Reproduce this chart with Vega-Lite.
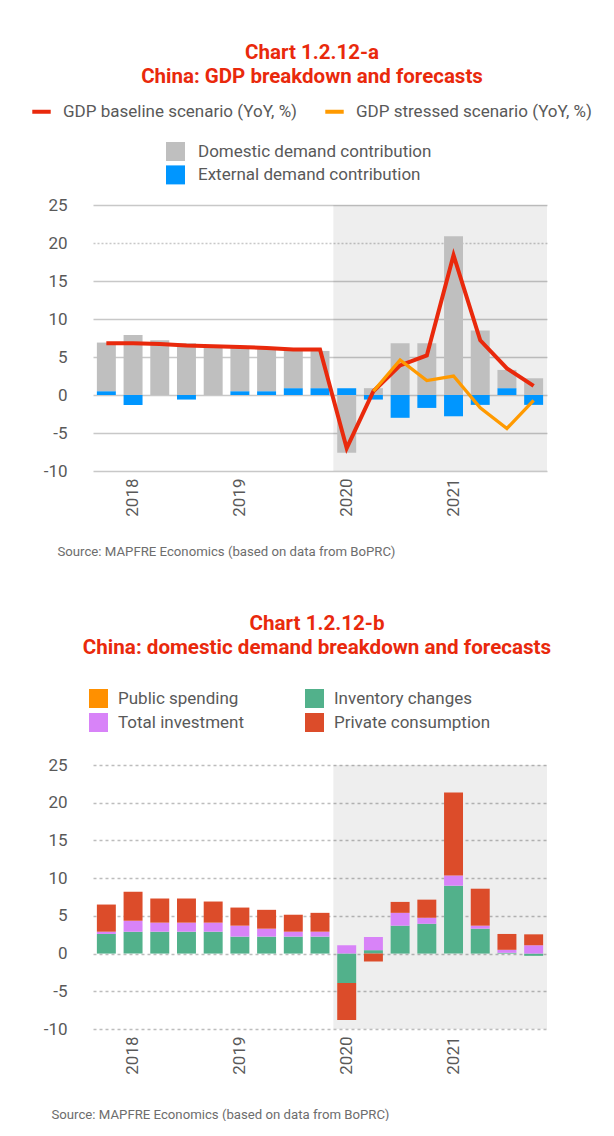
{
  "$schema": "https://vega.github.io/schema/vega-lite/v6.json",
  "background": "white",
  "padding": {"left": 30, "top": 42, "right": 0, "bottom": 0},
  "config": {"font": "Roboto", "view": {"stroke": null}},
  "bounds": "flush",
  "spacing": 294,
  "resolve": {"scale": {"x": "independent", "y": "independent", "fill": "independent", "stroke": "independent"}, "legend": {"fill": "independent", "stroke": "independent"}},
  "datasets": {
    "shade": [{"first": 9, "last": 17, "lo": -10, "hi": 25}],
    "a_bars": [
      {"q": "2017 Q4", "c": "External demand contribution", "v": 0.5, "k": 1},
      {"q": "2017 Q4", "c": "Domestic demand contribution", "v": 6.4, "k": 2},
      {"q": "2018 Q1", "c": "External demand contribution", "v": -1.3, "k": 1},
      {"q": "2018 Q1", "c": "Domestic demand contribution", "v": 7.9, "k": 2},
      {"q": "2018 Q2", "c": "Domestic demand contribution", "v": 7.2, "k": 2},
      {"q": "2018 Q3", "c": "External demand contribution", "v": -0.6, "k": 1},
      {"q": "2018 Q3", "c": "Domestic demand contribution", "v": 6.8, "k": 2},
      {"q": "2018 Q4", "c": "Domestic demand contribution", "v": 6.3, "k": 2},
      {"q": "2019 Q1", "c": "External demand contribution", "v": 0.5, "k": 1},
      {"q": "2019 Q1", "c": "Domestic demand contribution", "v": 5.8, "k": 2},
      {"q": "2019 Q2", "c": "External demand contribution", "v": 0.5, "k": 1},
      {"q": "2019 Q2", "c": "Domestic demand contribution", "v": 5.6, "k": 2},
      {"q": "2019 Q3", "c": "External demand contribution", "v": 0.9, "k": 1},
      {"q": "2019 Q3", "c": "Domestic demand contribution", "v": 4.9, "k": 2},
      {"q": "2019 Q4", "c": "External demand contribution", "v": 0.9, "k": 1},
      {"q": "2019 Q4", "c": "Domestic demand contribution", "v": 4.9, "k": 2},
      {"q": "2020 Q1", "c": "External demand contribution", "v": 0.9, "k": 1},
      {"q": "2020 Q1", "c": "Domestic demand contribution", "v": -7.6, "k": 2},
      {"q": "2020 Q2", "c": "External demand contribution", "v": -0.6, "k": 1},
      {"q": "2020 Q2", "c": "Domestic demand contribution", "v": 0.9, "k": 2},
      {"q": "2020 Q3", "c": "External demand contribution", "v": -3.0, "k": 1},
      {"q": "2020 Q3", "c": "Domestic demand contribution", "v": 6.8, "k": 2},
      {"q": "2020 Q4", "c": "External demand contribution", "v": -1.7, "k": 1},
      {"q": "2020 Q4", "c": "Domestic demand contribution", "v": 6.8, "k": 2},
      {"q": "2021 Q1", "c": "External demand contribution", "v": -2.8, "k": 1},
      {"q": "2021 Q1", "c": "Domestic demand contribution", "v": 20.9, "k": 2},
      {"q": "2021 Q2", "c": "External demand contribution", "v": -1.3, "k": 1},
      {"q": "2021 Q2", "c": "Domestic demand contribution", "v": 8.5, "k": 2},
      {"q": "2021 Q3", "c": "External demand contribution", "v": 0.9, "k": 1},
      {"q": "2021 Q3", "c": "Domestic demand contribution", "v": 2.4, "k": 2},
      {"q": "2021 Q4", "c": "External demand contribution", "v": -1.3, "k": 1},
      {"q": "2021 Q4", "c": "Domestic demand contribution", "v": 2.2, "k": 2}
    ],
    "a_lines": [
      {"q": "2017 Q4", "s": "GDP baseline scenario (YoY, %)", "v": 6.8},
      {"q": "2018 Q1", "s": "GDP baseline scenario (YoY, %)", "v": 6.8},
      {"q": "2018 Q2", "s": "GDP baseline scenario (YoY, %)", "v": 6.7},
      {"q": "2018 Q3", "s": "GDP baseline scenario (YoY, %)", "v": 6.5},
      {"q": "2018 Q4", "s": "GDP baseline scenario (YoY, %)", "v": 6.4},
      {"q": "2019 Q1", "s": "GDP baseline scenario (YoY, %)", "v": 6.3},
      {"q": "2019 Q2", "s": "GDP baseline scenario (YoY, %)", "v": 6.2},
      {"q": "2019 Q3", "s": "GDP baseline scenario (YoY, %)", "v": 6.0},
      {"q": "2019 Q4", "s": "GDP baseline scenario (YoY, %)", "v": 6.0},
      {"q": "2020 Q1", "s": "GDP baseline scenario (YoY, %)", "v": -7.0},
      {"q": "2020 Q2", "s": "GDP baseline scenario (YoY, %)", "v": 0.5},
      {"q": "2020 Q3", "s": "GDP baseline scenario (YoY, %)", "v": 3.9},
      {"q": "2020 Q4", "s": "GDP baseline scenario (YoY, %)", "v": 5.2},
      {"q": "2021 Q1", "s": "GDP baseline scenario (YoY, %)", "v": 18.4},
      {"q": "2021 Q2", "s": "GDP baseline scenario (YoY, %)", "v": 7.2},
      {"q": "2021 Q3", "s": "GDP baseline scenario (YoY, %)", "v": 3.5},
      {"q": "2021 Q4", "s": "GDP baseline scenario (YoY, %)", "v": 1.2},
      {"q": "2020 Q2", "s": "GDP stressed scenario (YoY, %)", "v": 0.5},
      {"q": "2020 Q3", "s": "GDP stressed scenario (YoY, %)", "v": 4.6},
      {"q": "2020 Q4", "s": "GDP stressed scenario (YoY, %)", "v": 1.9},
      {"q": "2021 Q1", "s": "GDP stressed scenario (YoY, %)", "v": 2.5},
      {"q": "2021 Q2", "s": "GDP stressed scenario (YoY, %)", "v": -1.7},
      {"q": "2021 Q3", "s": "GDP stressed scenario (YoY, %)", "v": -4.4},
      {"q": "2021 Q4", "s": "GDP stressed scenario (YoY, %)", "v": -0.7}
    ],
    "b_bars": [
      {"q": "2017 Q4", "c": "Inventory changes", "v": 2.6, "k": 1},
      {"q": "2017 Q4", "c": "Total investment", "v": 0.3, "k": 2},
      {"q": "2017 Q4", "c": "Private consumption", "v": 3.6, "k": 3},
      {"q": "2018 Q1", "c": "Inventory changes", "v": 2.9, "k": 1},
      {"q": "2018 Q1", "c": "Total investment", "v": 1.45, "k": 2},
      {"q": "2018 Q1", "c": "Private consumption", "v": 3.85, "k": 3},
      {"q": "2018 Q2", "c": "Inventory changes", "v": 2.9, "k": 1},
      {"q": "2018 Q2", "c": "Total investment", "v": 1.2, "k": 2},
      {"q": "2018 Q2", "c": "Private consumption", "v": 3.2, "k": 3},
      {"q": "2018 Q3", "c": "Inventory changes", "v": 2.9, "k": 1},
      {"q": "2018 Q3", "c": "Total investment", "v": 1.2, "k": 2},
      {"q": "2018 Q3", "c": "Private consumption", "v": 3.2, "k": 3},
      {"q": "2018 Q4", "c": "Inventory changes", "v": 2.9, "k": 1},
      {"q": "2018 Q4", "c": "Total investment", "v": 1.2, "k": 2},
      {"q": "2018 Q4", "c": "Private consumption", "v": 2.8, "k": 3},
      {"q": "2019 Q1", "c": "Inventory changes", "v": 2.25, "k": 1},
      {"q": "2019 Q1", "c": "Total investment", "v": 1.45, "k": 2},
      {"q": "2019 Q1", "c": "Private consumption", "v": 2.4, "k": 3},
      {"q": "2019 Q2", "c": "Inventory changes", "v": 2.25, "k": 1},
      {"q": "2019 Q2", "c": "Total investment", "v": 1.05, "k": 2},
      {"q": "2019 Q2", "c": "Private consumption", "v": 2.5, "k": 3},
      {"q": "2019 Q3", "c": "Inventory changes", "v": 2.25, "k": 1},
      {"q": "2019 Q3", "c": "Total investment", "v": 0.65, "k": 2},
      {"q": "2019 Q3", "c": "Private consumption", "v": 2.25, "k": 3},
      {"q": "2019 Q4", "c": "Inventory changes", "v": 2.25, "k": 1},
      {"q": "2019 Q4", "c": "Total investment", "v": 0.65, "k": 2},
      {"q": "2019 Q4", "c": "Private consumption", "v": 2.5, "k": 3},
      {"q": "2020 Q1", "c": "Inventory changes", "v": -3.9, "k": 1},
      {"q": "2020 Q1", "c": "Total investment", "v": 1.1, "k": 2},
      {"q": "2020 Q1", "c": "Private consumption", "v": -4.9, "k": 3},
      {"q": "2020 Q2", "c": "Inventory changes", "v": 0.45, "k": 1},
      {"q": "2020 Q2", "c": "Total investment", "v": 1.75, "k": 2},
      {"q": "2020 Q2", "c": "Private consumption", "v": -1.05, "k": 3},
      {"q": "2020 Q3", "c": "Inventory changes", "v": 3.7, "k": 1},
      {"q": "2020 Q3", "c": "Total investment", "v": 1.7, "k": 2},
      {"q": "2020 Q3", "c": "Private consumption", "v": 1.45, "k": 3},
      {"q": "2020 Q4", "c": "Inventory changes", "v": 3.95, "k": 1},
      {"q": "2020 Q4", "c": "Total investment", "v": 0.8, "k": 2},
      {"q": "2020 Q4", "c": "Private consumption", "v": 2.4, "k": 3},
      {"q": "2021 Q1", "c": "Inventory changes", "v": 9.0, "k": 1},
      {"q": "2021 Q1", "c": "Total investment", "v": 1.35, "k": 2},
      {"q": "2021 Q1", "c": "Private consumption", "v": 11.0, "k": 3},
      {"q": "2021 Q2", "c": "Inventory changes", "v": 3.3, "k": 1},
      {"q": "2021 Q2", "c": "Total investment", "v": 0.4, "k": 2},
      {"q": "2021 Q2", "c": "Private consumption", "v": 4.9, "k": 3},
      {"q": "2021 Q3", "c": "Inventory changes", "v": 0.1, "k": 1},
      {"q": "2021 Q3", "c": "Total investment", "v": 0.4, "k": 2},
      {"q": "2021 Q3", "c": "Private consumption", "v": 2.1, "k": 3},
      {"q": "2021 Q4", "c": "Inventory changes", "v": -0.3, "k": 1},
      {"q": "2021 Q4", "c": "Total investment", "v": 1.1, "k": 2},
      {"q": "2021 Q4", "c": "Private consumption", "v": 1.45, "k": 3}
    ]
  },
  "vconcat": [
    {
      "width": 454,
      "height": 266,
      "title": {"text": ["Chart 1.2.12-a", "China: GDP breakdown and forecasts"], "fontSize": 20.5, "fontWeight": "bold", "color": "#e9290c", "lineHeight": 24, "anchor": "middle", "frame": "group", "offset": 13, "dx": -8},
      "resolve": {"scale": {"x": "independent"}},
      "layer": [
        {
          "data": {"name": "shade"},
          "mark": {"type": "rect", "fill": "#000000", "fillOpacity": 0.065},
          "encoding": {
            "x": {"field": "first", "type": "quantitative", "scale": {"domain": [0, 17], "nice": false, "zero": false}, "axis": null},
            "x2": {"field": "last"},
            "y": {"field": "lo", "type": "quantitative", "scale": {"domain": [-10, 25], "nice": false},
                  "axis": {"title": null, "values": [-10, -5, 0, 5, 10, 15, 20, 25], "grid": true, "gridColor": "#c8c8c8", "gridWidth": 1.3, "gridDash": {"condition": {"test": "datum.value === 20", "value": [2, 2]}, "value": []}, "domain": false, "ticks": false, "labelFontSize": 17, "labelColor": "#595959", "labelPadding": 26, "labelExpr": "'' + datum.value"}},
            "y2": {"field": "hi"}
          }
        },
        {
          "layer": [
            {
              "data": {"name": "a_bars"},
              "mark": {"type": "bar"},
              "encoding": {
                "x": {"field": "q", "type": "ordinal", "scale": {"type": "band", "paddingInner": 0.29, "paddingOuter": 0.145},
                      "axis": {"orient": "bottom", "title": "Source: MAPFRE Economics (based on data from BoPRC)", "titleFontSize": 13.2, "titleFontWeight": "normal", "titleColor": "#6d6d6d", "titleAnchor": "start", "titleAlign": "left", "titleBaseline": "middle", "titleX": -36, "titleY": 80, "labelExpr": "indexof(datum.value, 'Q1') > 0 ? slice(datum.value, 0, 4) : ''", "labelAngle": -90, "labelAlign": "right", "labelBaseline": "middle", "labelFontSize": 17, "labelColor": "#595959", "labelPadding": 7, "ticks": false, "domain": false, "grid": false, "labelOverlap": false}},
                "y": {"field": "v", "type": "quantitative", "stack": "zero", "scale": {"domain": [-10, 25], "nice": false},
                      "axis": {"title": null, "values": [-10, -5, 0, 5, 10, 15, 20, 25], "grid": true, "gridColor": "#c8c8c8", "gridWidth": 1.3, "gridDash": {"condition": {"test": "datum.value === 20", "value": [2, 2]}, "value": []}, "domain": false, "ticks": false, "labelFontSize": 17, "labelColor": "#595959", "labelPadding": 26, "labelExpr": "'' + datum.value"}},
                "fill": {"field": "c", "type": "nominal",
                         "scale": {"domain": ["Domestic demand contribution", "External demand contribution"], "range": ["#bfbfbf", "#0096ff"]},
                         "legend": {"orient": "none", "legendX": 73, "legendY": -63, "direction": "vertical", "title": null, "symbolType": "square", "symbolSize": 361, "symbolStrokeWidth": 0, "labelFontSize": 17, "labelColor": "#595959", "labelOffset": 13, "rowPadding": 4.4, "labelLimit": 400, "padding": 0}},
                "order": {"field": "k", "type": "quantitative"}
              }
            },
            {
              "data": {"name": "a_lines"},
              "transform": [{"filter": "datum.s === 'GDP baseline scenario (YoY, %)'"}],
              "mark": {"type": "line", "strokeWidth": 4},
              "encoding": {
                "x": {"field": "q", "type": "ordinal", "scale": {"type": "band", "paddingInner": 0.29, "paddingOuter": 0.145},
                      "axis": {"orient": "bottom", "title": "Source: MAPFRE Economics (based on data from BoPRC)", "titleFontSize": 13.2, "titleFontWeight": "normal", "titleColor": "#6d6d6d", "titleAnchor": "start", "titleAlign": "left", "titleBaseline": "middle", "titleX": -36, "titleY": 80, "labelExpr": "indexof(datum.value, 'Q1') > 0 ? slice(datum.value, 0, 4) : ''", "labelAngle": -90, "labelAlign": "right", "labelBaseline": "middle", "labelFontSize": 17, "labelColor": "#595959", "labelPadding": 7, "ticks": false, "domain": false, "grid": false, "labelOverlap": false}},
                "y": {"field": "v", "type": "quantitative", "scale": {"domain": [-10, 25], "nice": false},
                      "axis": {"title": null, "values": [-10, -5, 0, 5, 10, 15, 20, 25], "grid": true, "gridColor": "#c8c8c8", "gridWidth": 1.3, "gridDash": {"condition": {"test": "datum.value === 20", "value": [2, 2]}, "value": []}, "domain": false, "ticks": false, "labelFontSize": 17, "labelColor": "#595959", "labelPadding": 26, "labelExpr": "'' + datum.value"}},
                "stroke": {"field": "s", "type": "nominal",
                           "scale": {"domain": ["GDP baseline scenario (YoY, %)", "GDP stressed scenario (YoY, %)"], "range": ["#e9290c", "#ff9a00"]},
                           "legend": {"orient": "none", "legendX": -63, "legendY": -105, "direction": "horizontal", "title": null, "symbolType": "stroke", "symbolSize": 340, "symbolStrokeWidth": 4, "labelFontSize": 17, "labelColor": "#595959", "labelOffset": 10, "columnPadding": 19, "labelLimit": 400, "padding": 0}}
              }
            },
            {
              "data": {"name": "a_lines"},
              "transform": [{"filter": "datum.s === 'GDP stressed scenario (YoY, %)'"}],
              "mark": {"type": "line", "strokeWidth": 3.3},
              "encoding": {
                "x": {"field": "q", "type": "ordinal", "scale": {"type": "band", "paddingInner": 0.29, "paddingOuter": 0.145},
                      "axis": {"orient": "bottom", "title": "Source: MAPFRE Economics (based on data from BoPRC)", "titleFontSize": 13.2, "titleFontWeight": "normal", "titleColor": "#6d6d6d", "titleAnchor": "start", "titleAlign": "left", "titleBaseline": "middle", "titleX": -36, "titleY": 80, "labelExpr": "indexof(datum.value, 'Q1') > 0 ? slice(datum.value, 0, 4) : ''", "labelAngle": -90, "labelAlign": "right", "labelBaseline": "middle", "labelFontSize": 17, "labelColor": "#595959", "labelPadding": 7, "ticks": false, "domain": false, "grid": false, "labelOverlap": false}},
                "y": {"field": "v", "type": "quantitative", "scale": {"domain": [-10, 25], "nice": false},
                      "axis": {"title": null, "values": [-10, -5, 0, 5, 10, 15, 20, 25], "grid": true, "gridColor": "#c8c8c8", "gridWidth": 1.3, "gridDash": {"condition": {"test": "datum.value === 20", "value": [2, 2]}, "value": []}, "domain": false, "ticks": false, "labelFontSize": 17, "labelColor": "#595959", "labelPadding": 26, "labelExpr": "'' + datum.value"}},
                "stroke": {"field": "s", "type": "nominal",
                           "scale": {"domain": ["GDP baseline scenario (YoY, %)", "GDP stressed scenario (YoY, %)"], "range": ["#e9290c", "#ff9a00"]},
                           "legend": {"orient": "none", "legendX": -63, "legendY": -105, "direction": "horizontal", "title": null, "symbolType": "stroke", "symbolSize": 340, "symbolStrokeWidth": 4, "labelFontSize": 17, "labelColor": "#595959", "labelOffset": 10, "columnPadding": 19, "labelLimit": 400, "padding": 0}}
              }
            }
          ]
        }
      ]
    },
    {
      "width": 454,
      "height": 264,
      "title": {"text": ["Chart 1.2.12-b", "China: domestic demand breakdown and forecasts"], "fontSize": 20.6, "fontWeight": "bold", "color": "#e9290c", "lineHeight": 24, "anchor": "middle", "frame": "group", "offset": 30, "dx": -3},
      "resolve": {"scale": {"x": "independent"}},
      "layer": [
        {
          "data": {"name": "shade"},
          "mark": {"type": "rect", "fill": "#000000", "fillOpacity": 0.065},
          "encoding": {
            "x": {"field": "first", "type": "quantitative", "scale": {"domain": [0, 17], "nice": false, "zero": false}, "axis": null},
            "x2": {"field": "last"},
            "y": {"field": "lo", "type": "quantitative", "scale": {"domain": [-10, 25], "nice": false},
                  "axis": {"title": null, "values": [-10, -5, 0, 5, 10, 15, 20, 25], "grid": true, "gridColor": "#bdbdbd", "gridWidth": 1.3, "gridDash": [3, 3], "domain": false, "ticks": false, "labelFontSize": 17, "labelColor": "#595959", "labelPadding": 26, "labelExpr": "'' + datum.value"}},
            "y2": {"field": "hi"}
          }
        },
        {
          "layer": [
            {
              "data": {"name": "b_bars"},
              "mark": {"type": "bar"},
              "encoding": {
                "x": {"field": "q", "type": "ordinal", "scale": {"type": "band", "paddingInner": 0.29, "paddingOuter": 0.145},
                      "axis": {"orient": "bottom", "title": "Source: MAPFRE Economics (based on data from BoPRC)", "titleFontSize": 13.2, "titleFontWeight": "normal", "titleColor": "#6d6d6d", "titleAnchor": "start", "titleAlign": "left", "titleBaseline": "middle", "titleX": -42, "titleY": 85, "labelExpr": "indexof(datum.value, 'Q1') > 0 ? slice(datum.value, 0, 4) : ''", "labelAngle": -90, "labelAlign": "right", "labelBaseline": "middle", "labelFontSize": 17, "labelColor": "#595959", "labelPadding": 7, "ticks": false, "domain": false, "grid": false, "labelOverlap": false}},
                "y": {"field": "v", "type": "quantitative", "stack": "zero", "scale": {"domain": [-10, 25], "nice": false},
                      "axis": {"title": null, "values": [-10, -5, 0, 5, 10, 15, 20, 25], "grid": true, "gridColor": "#bdbdbd", "gridWidth": 1.3, "gridDash": [3, 3], "domain": false, "ticks": false, "labelFontSize": 17, "labelColor": "#595959", "labelPadding": 26, "labelExpr": "'' + datum.value"}},
                "fill": {"field": "c", "type": "nominal",
                         "scale": {"domain": ["Public spending", "Total investment", "Inventory changes", "Private consumption"], "range": ["#ff9000", "#d883f8", "#52b18b", "#dc4c2a"]},
                         "legend": {"orient": "none", "legendX": -4, "legendY": -76, "columns": 2, "title": null, "symbolType": "square", "symbolSize": 361, "symbolStrokeWidth": 0, "labelFontSize": 17, "labelColor": "#595959", "labelOffset": 10, "rowPadding": 5, "columnPadding": 60, "labelLimit": 400, "padding": 0}},
                "order": {"field": "k", "type": "quantitative"}
              }
            }
          ]
        }
      ]
    }
  ]
}
